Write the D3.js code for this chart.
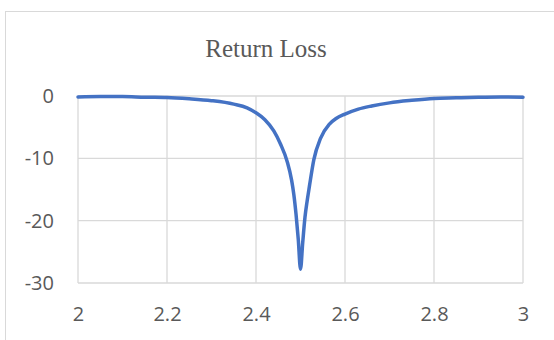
<!DOCTYPE html>
<html>
<head>
<meta charset="utf-8">
<script src="https://cdn.jsdelivr.net/npm/d3@7"></script>
<style>
  html, body { margin: 0; padding: 0; background: #fff; }
  svg { display: block; }
</style>
</head>
<body>
<svg id="chart" width="554" height="340"></svg>
<script>
// Return loss (dB) versus frequency (GHz)
const frequency = [2.00, 2.05, 2.10, 2.15, 2.20, 2.25, 2.30, 2.35, 2.38, 2.40, 2.42, 2.44, 2.455,
  2.47, 2.48, 2.485, 2.49, 2.495, 2.50, 2.505, 2.51, 2.515, 2.52, 2.53, 2.545, 2.565, 2.58,
  2.60, 2.63, 2.66, 2.70, 2.75, 2.80, 2.85, 2.90, 2.95, 3.00];
const returnLoss = [-0.15, -0.1, -0.1, -0.2, -0.25, -0.45, -0.75, -1.3, -1.9, -2.7, -3.8, -5.6, -7.7,
  -10.5, -13.5, -15.8, -19.0, -23.0, -27.8, -23.5, -19.5, -16.8, -14.5, -10.2, -6.8, -4.5, -3.6,
  -2.9, -2.1, -1.6, -1.1, -0.7, -0.4, -0.3, -0.2, -0.15, -0.2];
const xTicks = [2, 2.2, 2.4, 2.6, 2.8, 3];
const yTicks = [0, -10, -20, -30];
const title = "Return Loss";

const svg = d3.select("#chart");
const plot = { left: 78, right: 523, top: 96, bottom: 283 };

const x = d3.scaleLinear().domain([2, 3]).range([plot.left, plot.right]);
const y = d3.scaleLinear().domain([-30, 0]).range([plot.bottom, plot.top]);

const textColor = "#595959";
const gridColor = "#d9d9d9";

// chart frame
svg.append("rect")
  .attr("x", 5.5).attr("y", 11.5)
  .attr("width", 600).attr("height", 400)
  .attr("fill", "#fff").attr("stroke", gridColor).attr("stroke-width", 1);

// title
svg.append("text")
  .attr("x", 266).attr("y", 57)
  .attr("text-anchor", "middle")
  .attr("font-family", "'Liberation Serif', 'Times New Roman', serif")
  .attr("font-size", 25)
  .attr("fill", textColor)
  .text(title);

// gridlines
const grid = svg.append("g").attr("stroke", gridColor).attr("stroke-width", 1.3);
grid.selectAll("line.h").data(yTicks).join("line")
  .attr("class", "h")
  .attr("x1", plot.left).attr("x2", plot.right)
  .attr("y1", d => y(d)).attr("y2", d => y(d));
grid.selectAll("line.v").data(xTicks).join("line")
  .attr("class", "v")
  .attr("x1", d => x(d)).attr("x2", d => x(d))
  .attr("y1", plot.top).attr("y2", plot.bottom);

// axes (labels only)
const yAxis = d3.axisLeft(y).tickValues(yTicks).tickSize(0).tickPadding(24)
  .tickFormat(d => String(d));
const gy = svg.append("g").attr("transform", `translate(${plot.left},0)`).call(yAxis);

const xAxis = d3.axisBottom(x).tickValues(xTicks).tickSize(0).tickPadding(24)
  .tickFormat(d => String(d));
const gx = svg.append("g").attr("transform", `translate(0,${plot.bottom})`).call(xAxis);

[gx, gy].forEach(g => {
  g.select(".domain").remove();
  g.selectAll("text")
    .attr("font-family", "'Open Sans', 'Liberation Sans', sans-serif")
    .attr("font-size", 20)
    .attr("fill", textColor);
});

// curve
const data = frequency.map((f, i) => ({ f, v: returnLoss[i] }));
svg.append("path")
  .datum(data)
  .attr("fill", "none")
  .attr("stroke", "#4472C4")
  .attr("stroke-width", 3.5)
  .attr("stroke-linecap", "round")
  .attr("stroke-linejoin", "round")
  .attr("d", d3.line().x(d => x(d.f)).y(d => y(d.v)).curve(d3.curveMonotoneX));
</script>
</body>
</html>
